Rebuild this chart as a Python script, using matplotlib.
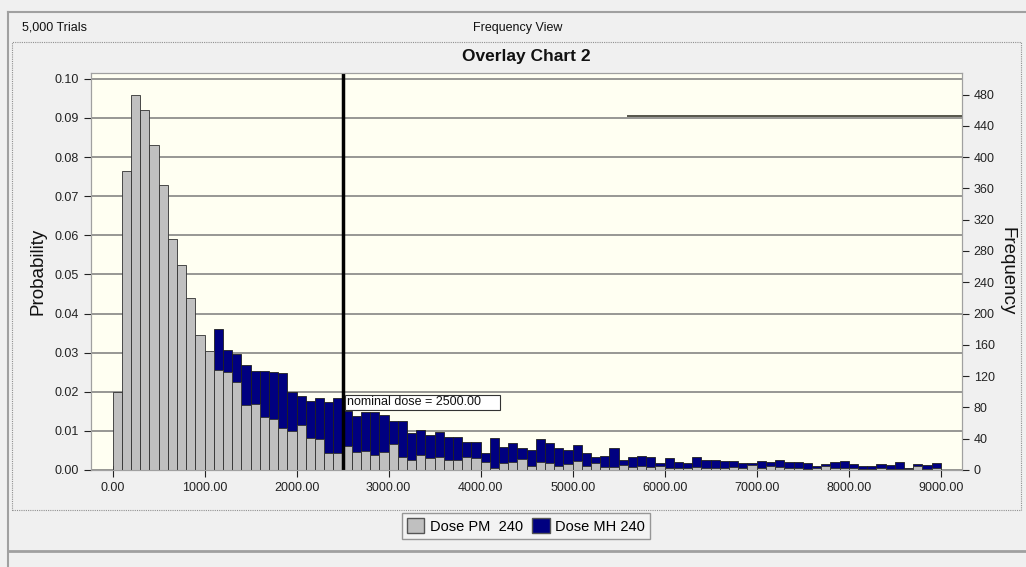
import numpy as np
import matplotlib
matplotlib.use("Agg")
import matplotlib.pyplot as plt
from matplotlib.patches import Rectangle, Patch
from matplotlib.lines import Line2D

plt.rcParams['font.family'] = ['Liberation Sans', 'DejaVu Sans']

# histogram bins (left edges, width 100)
bin_left = np.arange(0, 9000, 100)

# Dose PM 240 probabilities (grey, drawn in front)
dose_pm = [
    0.0199, 0.0765, 0.0959, 0.0921, 0.0831, 0.0728, 0.0591, 0.0524, 0.0439, 0.0345,
    0.0304, 0.0256, 0.0250, 0.0224, 0.0165, 0.0168, 0.0136, 0.0130, 0.0107, 0.0100,
    0.0115, 0.0083, 0.0080, 0.0044, 0.0044, 0.0062, 0.0047, 0.0049, 0.0038, 0.0047,
    0.0066, 0.0033, 0.0026, 0.0038, 0.0030, 0.0033, 0.0026, 0.0026, 0.0033, 0.0030,
    0.0021, 0.0004, 0.0017, 0.0021, 0.0028, 0.0011, 0.0021, 0.0017, 0.0011, 0.0015,
    0.0024, 0.0011, 0.0017, 0.0007, 0.0007, 0.0013, 0.0008, 0.0010, 0.0007, 0.0011,
    0.0005, 0.0006, 0.0004, 0.0007, 0.0006, 0.0005, 0.0004, 0.0007, 0.0004, 0.0013,
    0.0006, 0.0010, 0.0007, 0.0004, 0.0004, 0.0003, 0.0005, 0.0009, 0.0004, 0.0004,
    0.0004, 0.0003, 0.0003, 0.0004, 0.0003, 0.0003, 0.0002, 0.0009, 0.0003, 0.0004,
]

# Dose MH 240 probabilities (navy, drawn behind)
dose_mh = [
    0.0010, 0.0040, 0.0080, 0.0120, 0.0150, 0.0180, 0.0200, 0.0220, 0.0240, 0.0260,
    0.0280, 0.0360, 0.0307, 0.0296, 0.0268, 0.0253, 0.0253, 0.0251, 0.0249, 0.0199,
    0.0189, 0.0176, 0.0183, 0.0173, 0.0183, 0.0152, 0.0139, 0.0149, 0.0148, 0.0141,
    0.0124, 0.0124, 0.0094, 0.0101, 0.0090, 0.0096, 0.0084, 0.0084, 0.0071, 0.0071,
    0.0044, 0.0081, 0.0060, 0.0070, 0.0055, 0.0051, 0.0078, 0.0070, 0.0057, 0.0051,
    0.0064, 0.0044, 0.0034, 0.0036, 0.0057, 0.0026, 0.0032, 0.0036, 0.0034, 0.0018,
    0.0030, 0.0021, 0.0018, 0.0032, 0.0026, 0.0026, 0.0023, 0.0022, 0.0018, 0.0019,
    0.0023, 0.0021, 0.0026, 0.0021, 0.0021, 0.0017, 0.0009, 0.0015, 0.0020, 0.0022,
    0.0015, 0.0011, 0.0011, 0.0015, 0.0012, 0.0020, 0.0004, 0.0015, 0.0012, 0.0019,
]

trials = 5000
nominal_dose = 2500
x_ticks = np.arange(0, 9001, 1000)
y_ticks = np.arange(0, 0.101, 0.01)
freq_ticks = np.arange(0, 481, 40)

W, H = 1026, 567
fig = plt.figure(figsize=(W / 100, H / 100), dpi=100, facecolor='#f0f0f0')

def fx(px):
    return px / W

def fy(py):
    return 1 - py / H

# window frame
fig.add_artist(Line2D([fx(8), 1], [fy(12), fy(12)], color='#a0a0a0', lw=1.5))
fig.add_artist(Line2D([fx(8), fx(8)], [fy(12), 0], color='#a0a0a0', lw=1.5))
fig.add_artist(Line2D([fx(8), 1], [fy(551), fy(551)], color='#a0a0a0', lw=2))
fig.add_artist(Rectangle((fx(12), fy(510)), fx(1021) - fx(12), fy(42) - fy(510),
                         fill=False, ec='#909090', lw=0.8, ls=(0, (1, 1))))

fig.text(fx(22), fy(28), '5,000 Trials', fontsize=9, va='center', ha='left', color='#111')
fig.text(fx(518), fy(28), 'Frequency View', fontsize=9, va='center', ha='center', color='#111')
fig.text(fx(526), fy(57), 'Overlay Chart 2', fontsize=12.5, fontweight='bold',
         va='center', ha='center', color='#111')

ax = fig.add_axes([fx(91), fy(470), fx(962) - fx(91), fy(73) - fy(470)])
ax.set_facecolor('#fffff2')
ax.set_xlim(-234, 9231)
ax.set_ylim(0, 0.1015)

ax.set_axisbelow(True)
ax.yaxis.grid(True, color='#7a7a7a', lw=1.1)

ax.bar(bin_left, dose_mh, width=100, align='edge', color='#000080',
       edgecolor='#202020', lw=0.6, zorder=2)
ax.bar(bin_left, dose_pm, width=100, align='edge', color='#c0c0c0',
       edgecolor='#303030', lw=0.6, zorder=3)

ax.axvline(nominal_dose, color='black', lw=2.5, zorder=5)
ax.plot([5600, 9231], [0.0905, 0.0905], color='#55554a', lw=1.4, zorder=4)
ax.add_patch(Rectangle((2530, 0.01535), 1680, 0.00385, facecolor='white',
                       edgecolor='#333', lw=0.8, zorder=6))
ax.text(2550, 0.01727, 'nominal dose = 2500.00', fontsize=9, va='center',
        ha='left', zorder=7, color='#111')

ax.set_xticks(x_ticks)
ax.set_xticklabels(['%.2f' % v for v in x_ticks])
ax.set_yticks(y_ticks)
ax.set_yticklabels(['%.2f' % v for v in y_ticks])
ax.tick_params(axis='both', labelsize=9, colors='#222', length=5, width=0.8, direction='out')
for s in ax.spines.values():
    s.set_color('#a0a0a0')
ax.set_ylabel('Probability', fontsize=13.5, color='#111', labelpad=6)

ax2 = ax.twinx()
ax2.set_ylim(0, 0.1015 * trials)
ax2.set_yticks(freq_ticks)
ax2.tick_params(axis='y', labelsize=9, colors='#222', length=5, width=0.8, direction='out')
for s in ax2.spines.values():
    s.set_color('#a0a0a0')
ax2.set_ylabel('Frequency', fontsize=13.5, rotation=270, color='#111', labelpad=15)

handles = [Patch(facecolor='#c0c0c0', edgecolor='#555', label='Dose PM  240'),
           Patch(facecolor='#000080', edgecolor='#555', label='Dose MH 240')]
leg = fig.legend(handles=handles, loc='center', bbox_to_anchor=(fx(526), fy(526)),
                 ncol=2, fontsize=10.5, frameon=True, fancybox=False,
                 handlelength=1.2, handleheight=1.2, handletextpad=0.4,
                 columnspacing=0.6, borderpad=0.35)
leg.get_frame().set_edgecolor('#808080')
leg.get_frame().set_facecolor('#f4f4f4')
leg.get_frame().set_linewidth(1.0)

fig.savefig('out.png', dpi=100, facecolor=fig.get_facecolor())
